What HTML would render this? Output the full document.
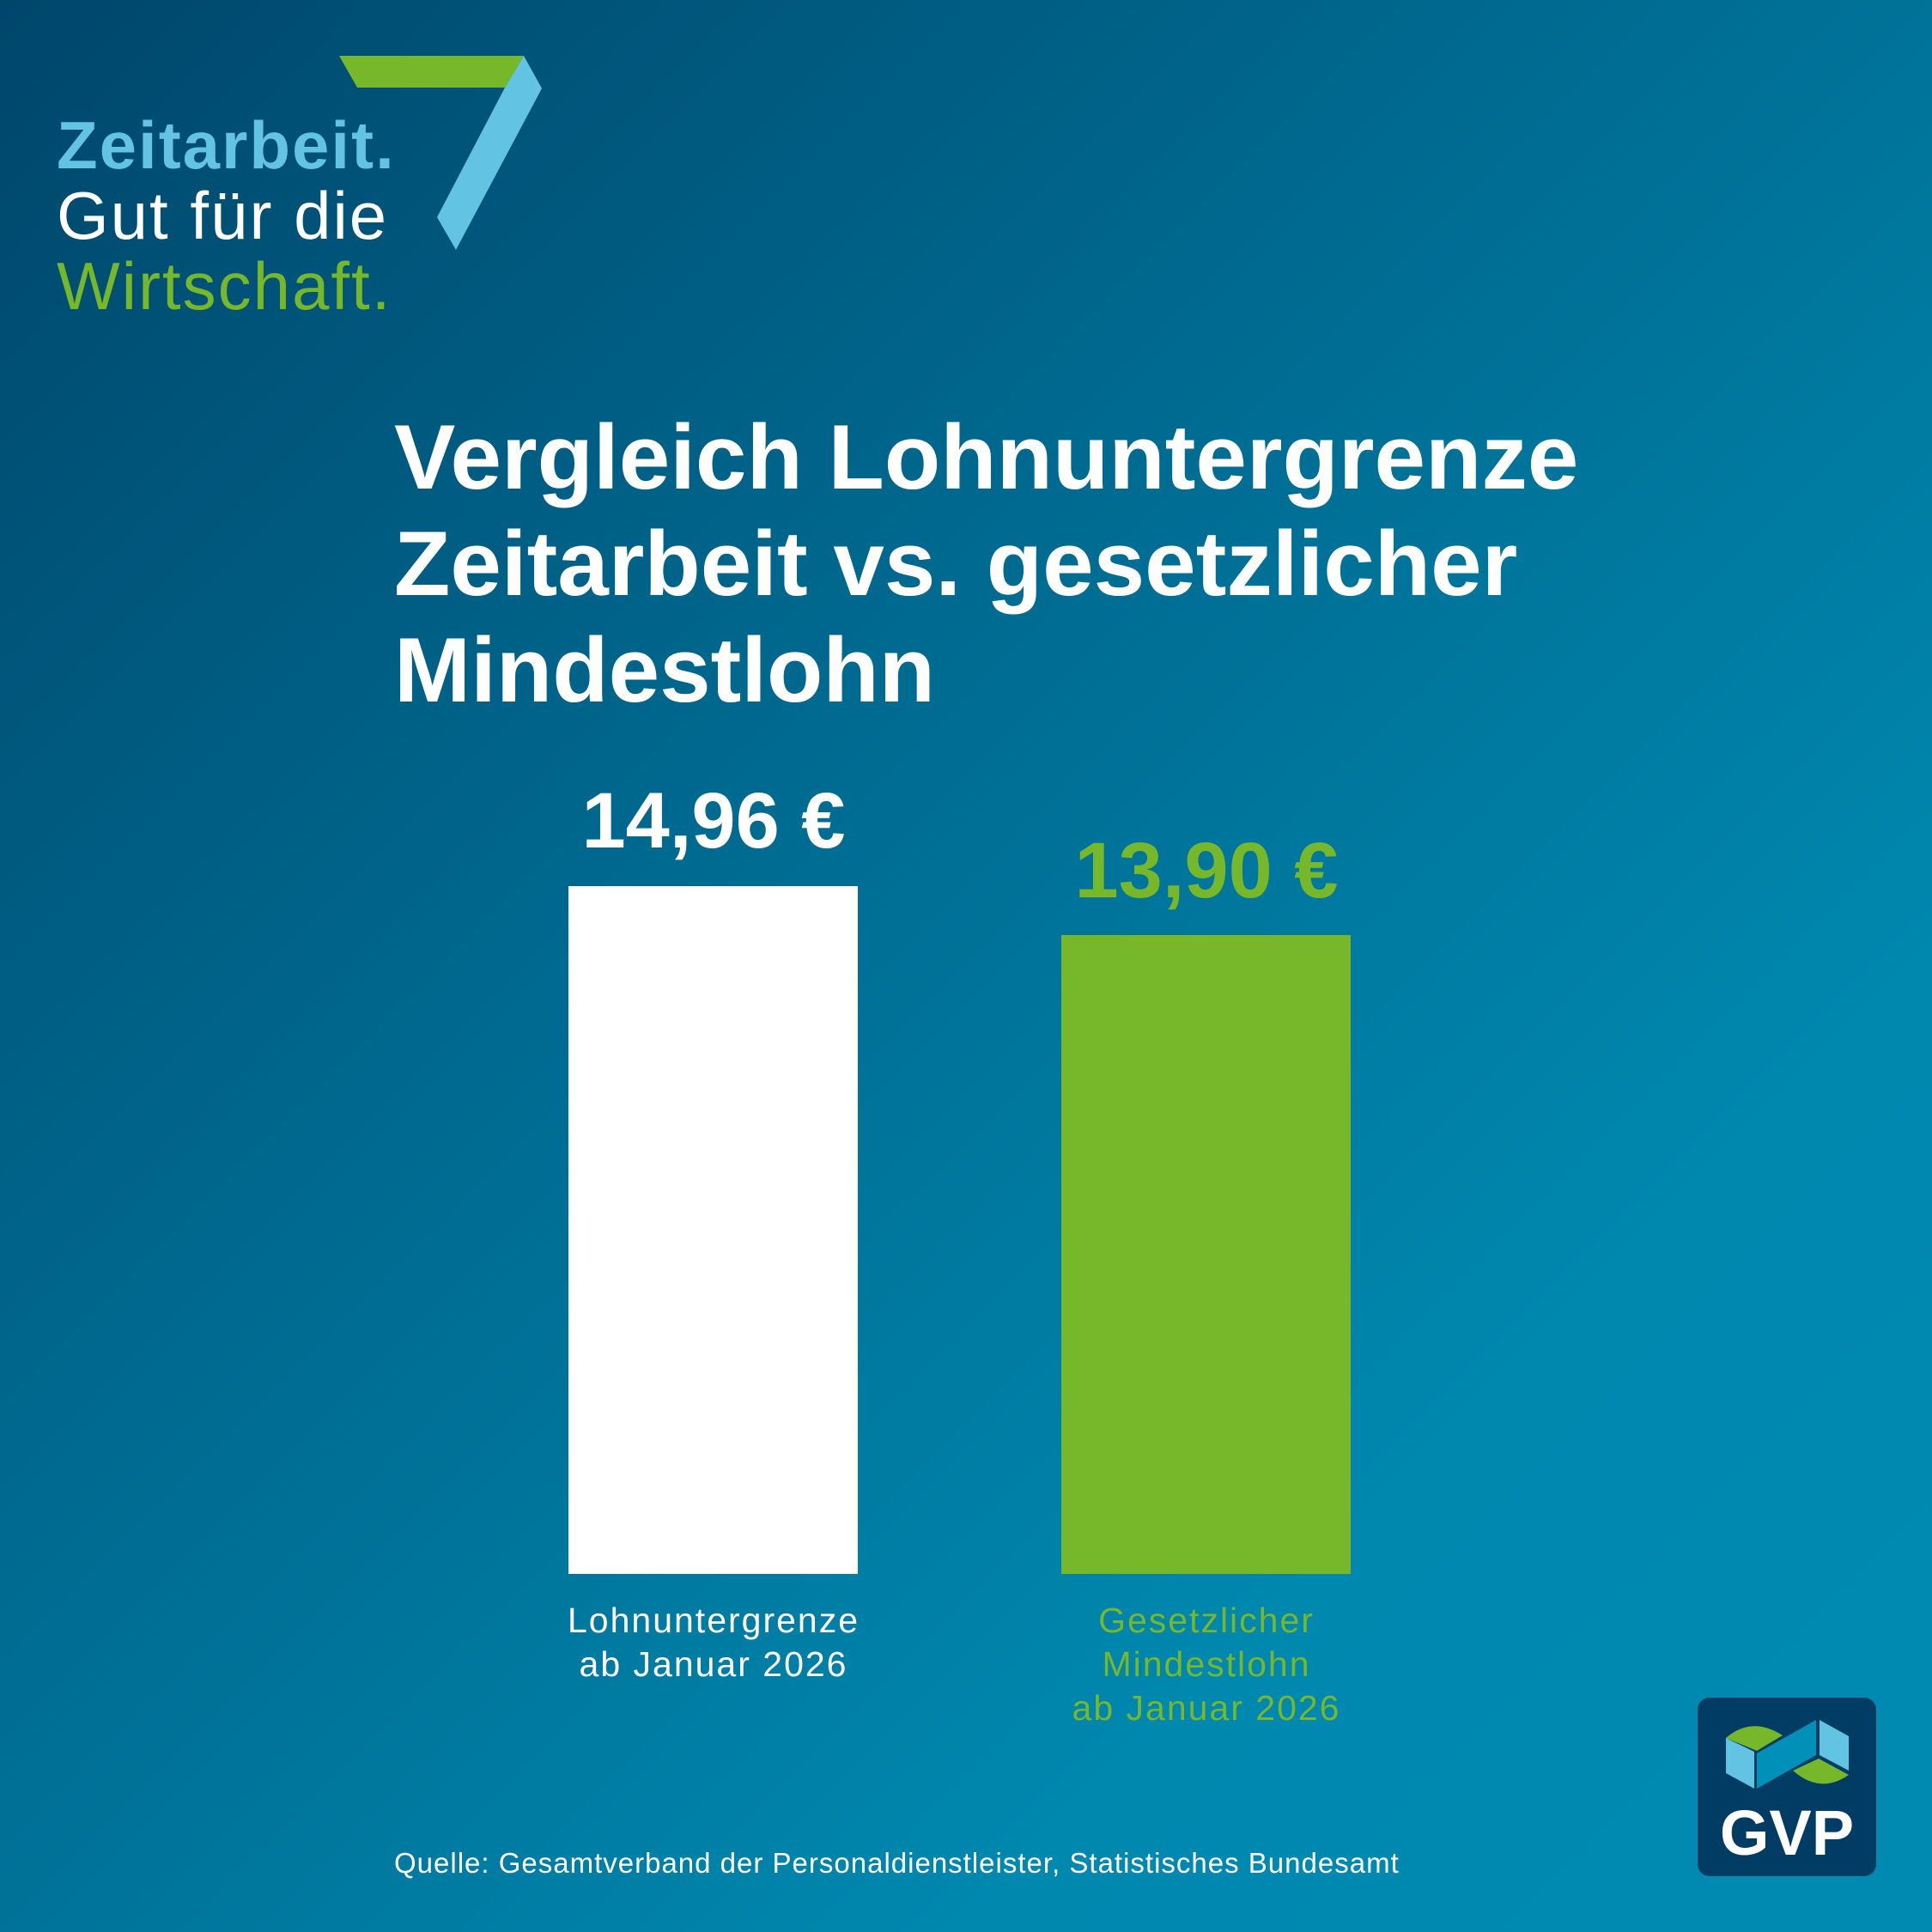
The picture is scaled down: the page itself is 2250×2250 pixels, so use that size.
<!DOCTYPE html>
<html><head><meta charset="utf-8"><style>
html,body{margin:0;padding:0}
body{width:2250px;height:2250px;position:relative;overflow:hidden;font-family:"Liberation Sans","DejaVu Sans",sans-serif;
background:linear-gradient(135deg,#00466b 0%,#006a90 40%,#0088af 75%,#008ab2 100%);}
.t{position:absolute;white-space:nowrap;line-height:1}
</style></head><body>
<svg width="2250" height="2250" style="position:absolute;left:0;top:0">
<polygon points="395,65 610,65 588,102 416,102" fill="#76b82a"/>
<polygon points="610,65 631,103 531,291 509,253 588,102" fill="#62c3e3"/>
<rect x="662" y="1032" width="337" height="801" fill="#ffffff"/>
<rect x="1236" y="1089" width="337" height="744" fill="#76b82a"/>
<rect x="1977" y="1977" width="208" height="208" rx="14" fill="#003c64"/>
<path d="M2010,2024 Q2040,1998 2076,2021 L2046,2039 Z" fill="#76b82a"/>
<polygon points="2010,2024 2043,2040 2043,2083 2010,2065" fill="#62c3e3"/>
<polygon points="2046,2042 2115,2003 2115,2044 2046,2083" fill="#0090b8"/>
<polygon points="2119,2003 2153,2022 2153,2062 2119,2044" fill="#62c3e3"/>
<path d="M2088,2062 L2118,2048 L2153,2067 Q2120,2090 2088,2062 Z" fill="#76b82a"/>
</svg>
<div class="t" style="left:66px;top:130px;font-size:78px;letter-spacing:2px;font-weight:bold;color:#62c3e3">Zeitarbeit.</div>
<div class="t" style="left:66px;top:212px;font-size:78px;letter-spacing:2px;color:#fff">Gut für die</div>
<div class="t" style="left:66px;top:294px;font-size:78px;letter-spacing:2px;color:#76b82a">Wirtschaft.</div>
<div class="t" style="left:459px;top:470px;font-size:107px;font-weight:bold;color:#fff;line-height:124px">Vergleich Lohnuntergrenze<br>Zeitarbeit vs. gesetzlicher<br>Mindestlohn</div>
<div class="t" style="left:631px;width:400px;text-align:center;top:910px;font-size:92px;font-weight:bold;color:#fff">14,96 €</div>
<div class="t" style="left:1205px;width:400px;text-align:center;top:968px;font-size:92px;font-weight:bold;color:#76b82a">13,90 €</div>
<div class="t" style="left:631px;width:400px;text-align:center;top:1862px;font-size:41px;letter-spacing:2px;color:#fff;line-height:51px">Lohnuntergrenze<br>ab Januar 2026</div>
<div class="t" style="left:1205px;width:400px;text-align:center;top:1862px;font-size:41px;letter-spacing:2px;color:#76b82a;line-height:51px">Gesetzlicher<br>Mindestlohn<br>ab Januar 2026</div>
<div class="t" style="left:459px;top:2153px;font-size:33px;letter-spacing:1px;color:#fff">Quelle: Gesamtverband der Personaldienstleister, Statistisches Bundesamt</div>
<div class="t" style="left:1977px;width:208px;text-align:center;top:2098px;font-size:74px;font-weight:bold;color:#fff">GVP</div>
</body></html>
